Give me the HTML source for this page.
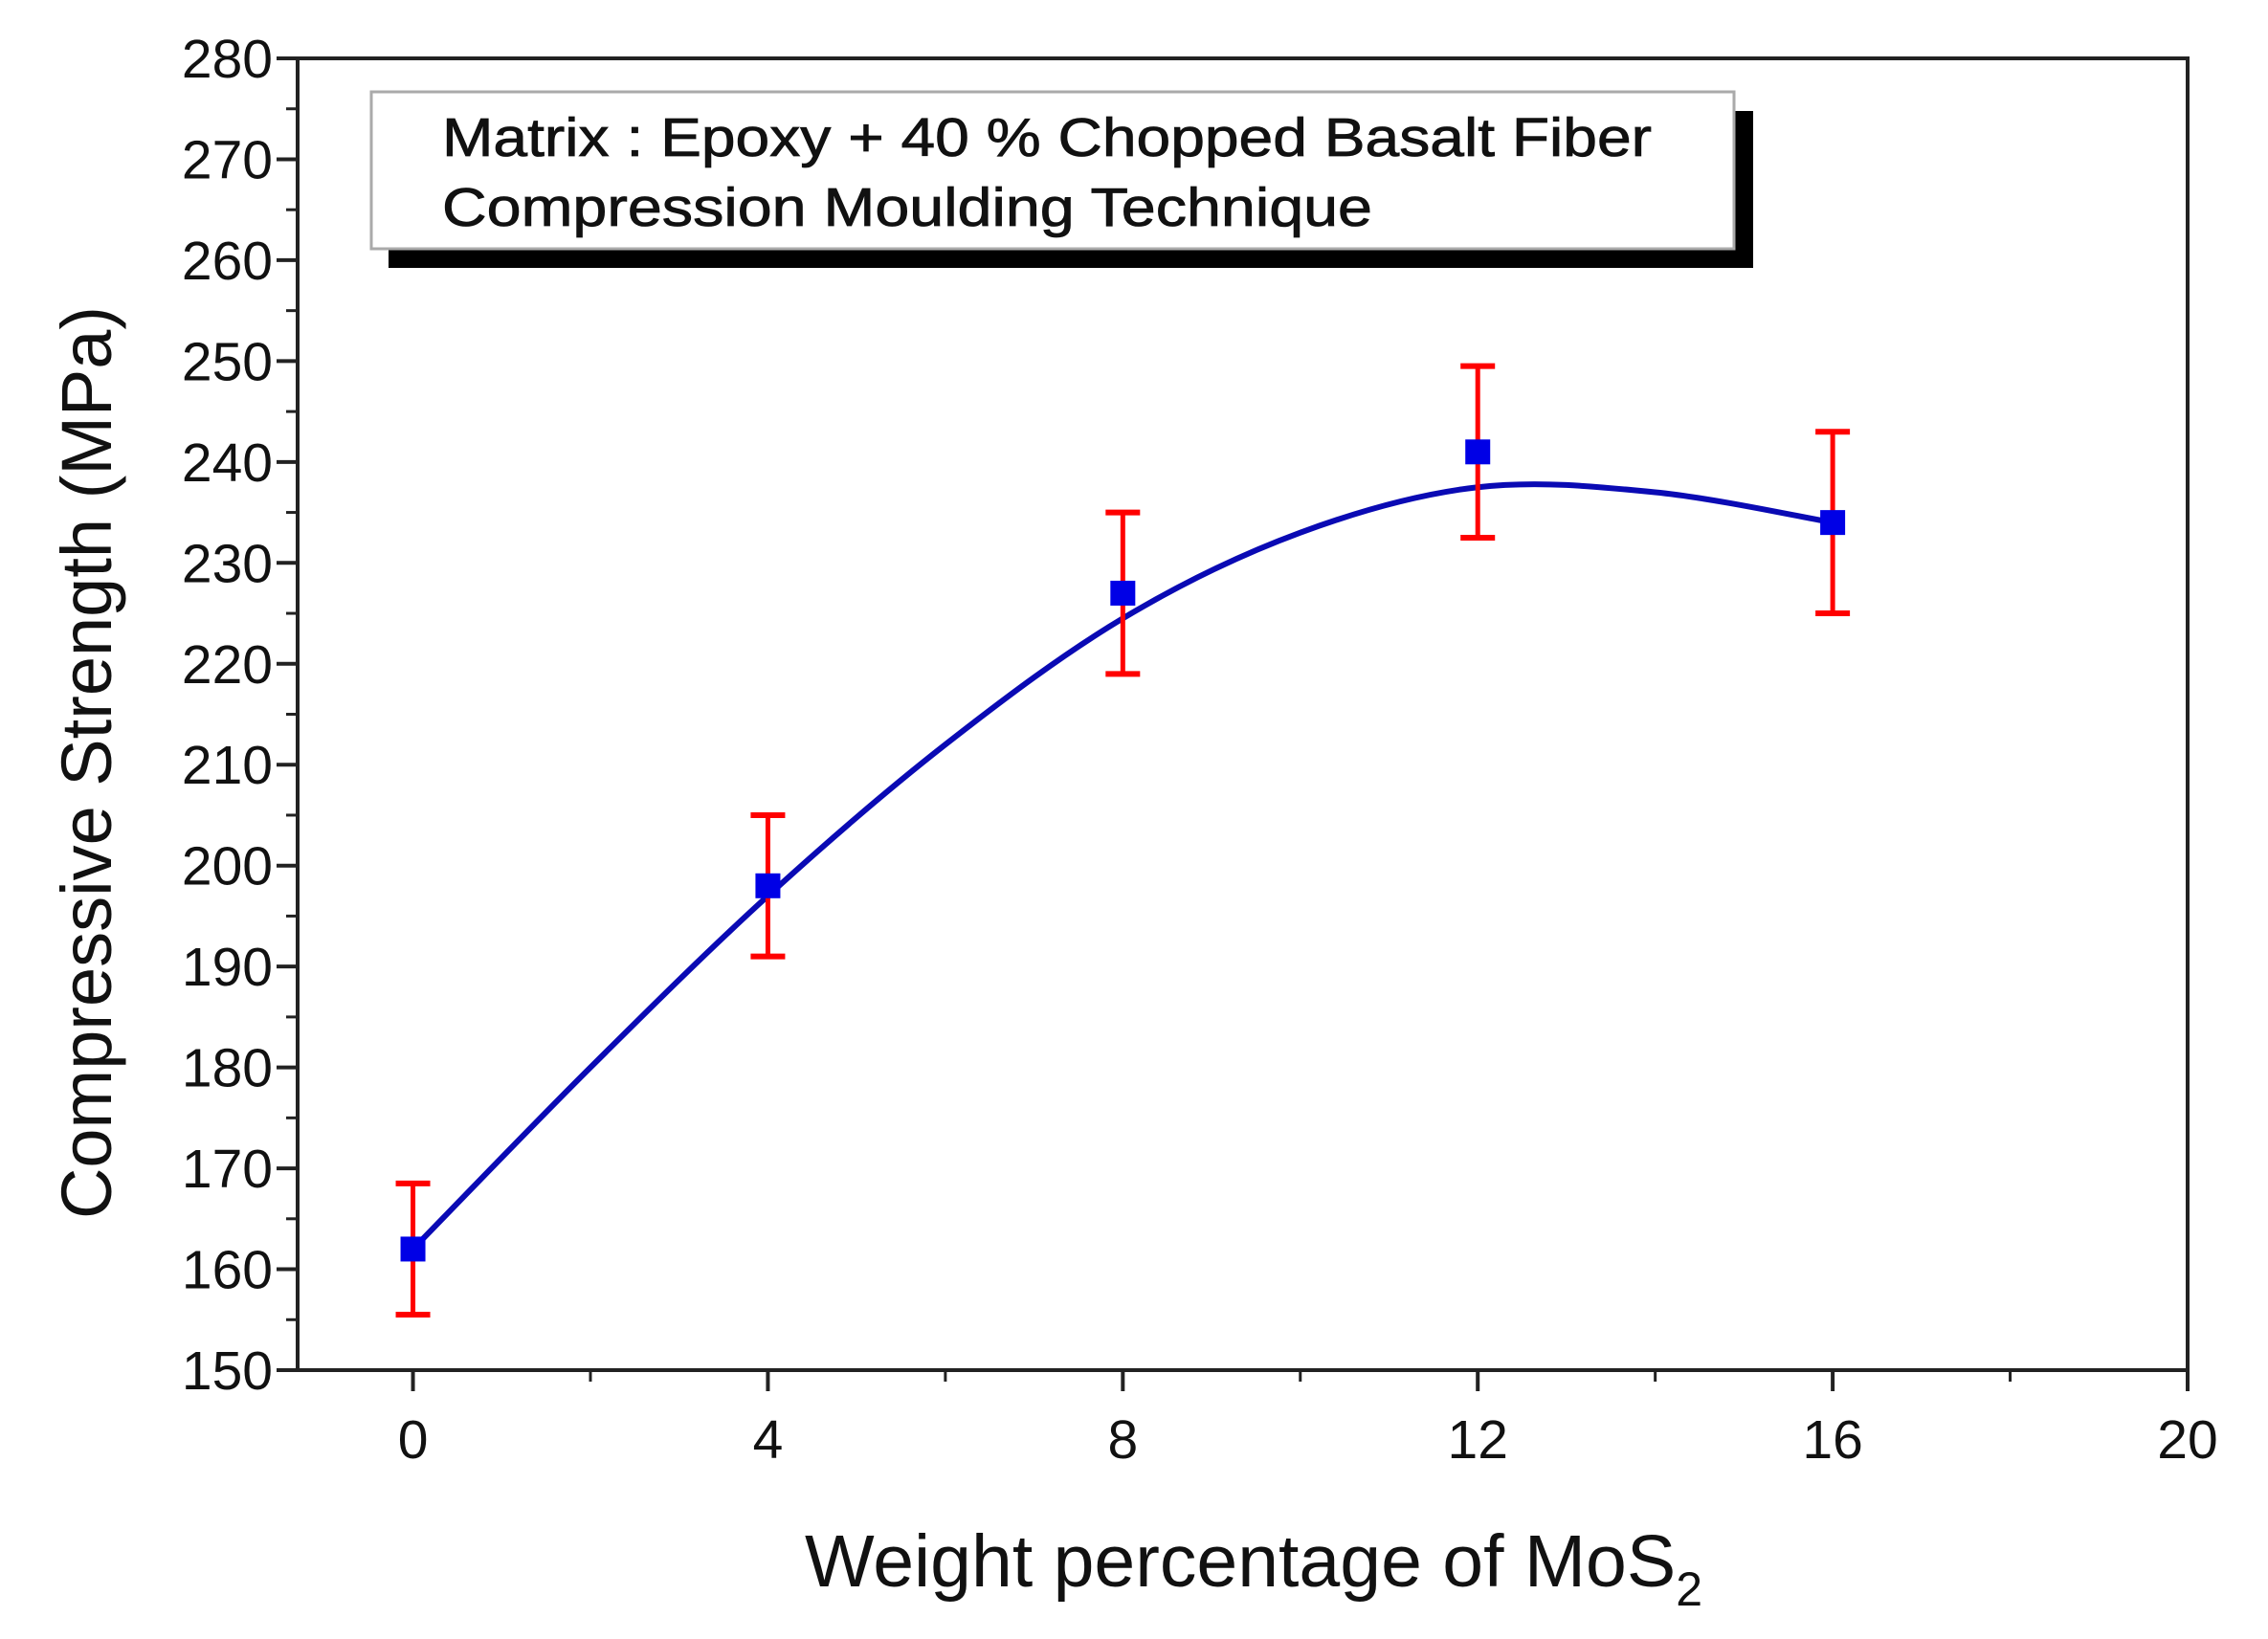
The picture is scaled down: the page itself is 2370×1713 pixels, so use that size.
<!DOCTYPE html>
<html><head><meta charset="utf-8"><style>
html,body{margin:0;padding:0;background:#fff;}
svg{display:block;}
text{font-family:"Liberation Sans",Arial,sans-serif;fill:#111;}
</style></head><body>
<svg id="chart" width="2370" height="1713" viewBox="0 0 2370 1713" xmlns="http://www.w3.org/2000/svg">
<g id="legend">
  <rect x="406" y="116" width="1426" height="164" fill="#000"/>
  <rect x="388" y="96" width="1424" height="164" fill="#fff" stroke="#aaa" stroke-width="3"/>
  <text x="462" y="163" font-size="57" textLength="1264" lengthAdjust="spacingAndGlyphs" stroke="#111" stroke-width="0.8">Matrix : Epoxy + 40 % Chopped Basalt Fiber</text>
  <text x="462" y="236" font-size="57" textLength="972" lengthAdjust="spacingAndGlyphs" stroke="#111" stroke-width="0.8">Compression Moulding Technique</text>
</g>
<g id="axes"></g>
<g id="marks"></g>
<text x="0" y="0" font-size="74" text-anchor="middle" transform="translate(116,797) rotate(-90)">Compressive Strength (MPa)</text>
<text x="1310" y="1658" font-size="77" text-anchor="middle">Weight percentage of MoS<tspan font-size="50" dy="20">2</tspan></text>
</svg>
<script>
const categories = [0, 4, 8, 12, 16];
const strengthValues = [162, 198, 227, 241, 234];
const errorLow = [155.5, 191, 219, 232.5, 225];
const errorHigh = [168.5, 205, 235, 249.5, 243];
const fitX = [0, 2, 4, 6, 8, 10, 12, 14, 16];
const fitY = [162, 180, 197, 212, 224.5, 233, 237.5, 237, 234];
const xTickLabels = ["0", "4", "8", "12", "16", "20"];
const yTickLabels = ["150","160","170","180","190","200","210","220","230","240","250","260","270","280"];

const NS = "http://www.w3.org/2000/svg";
const L = 311, R = 2286, T = 61, B = 1432;
const xMin = -1.3, xMax = 20, yMin = 150, yMax = 280;
function xs(v){ return L + (v - xMin) / (xMax - xMin) * (R - L); }
function ys(v){ return B - (v - yMin) / (yMax - yMin) * (B - T); }
function mk(tag, attrs, parent){
  const e = document.createElementNS(NS, tag);
  for (const k in attrs) e.setAttribute(k, attrs[k]);
  parent.appendChild(e); return e;
}
const axes = document.getElementById('axes');
const marks = document.getElementById('marks');

const frame = mk('rect', {x:L, y:T, width:R-L, height:B-T, fill:'none', stroke:'#222', 'stroke-width':4}, axes);



yTickLabels.forEach(function(lab){
  const v = parseFloat(lab); const y = ys(v);
  const t = mk('line', {x1:L-22, x2:L, y1:y, y2:y, stroke:'#222', 'stroke-width':4}, axes);
  
  
  const tx = mk('text', {x:L-26, y:y+20, 'font-size':57, 'text-anchor':'end'}, axes);
  tx.textContent = lab;
  
  
  if (v + 5 <= yMax) {
    const m = mk('line', {x1:L-12, x2:L, y1:ys(v+5), y2:ys(v+5), stroke:'#222', 'stroke-width':3}, axes);
    
    
  }
});
xTickLabels.forEach(function(lab){
  const v = parseFloat(lab); const x = xs(v);
  const t = mk('line', {x1:x, x2:x, y1:B, y2:B+22, stroke:'#222', 'stroke-width':4}, axes);
  
  
  const tx = mk('text', {x:x, y:B+92, 'font-size':57, 'text-anchor':'middle'}, axes);
  tx.textContent = lab;
  
  
  if (v + 2 <= xMax) {
    const m = mk('line', {x1:xs(v+2), x2:xs(v+2), y1:B, y2:B+12, stroke:'#222', 'stroke-width':3}, axes);
    
    
  }
});

const pts = fitX.map(function(v,i){ return [xs(v), ys(fitY[i])]; });
let d = 'M' + pts[0][0] + ',' + pts[0][1];
for (let i = 0; i < pts.length - 1; i++) {
  const p0 = pts[i-1] || pts[i], p1 = pts[i], p2 = pts[i+1], p3 = pts[i+2] || p2;
  const c1 = [p1[0] + (p2[0]-p0[0])/6, p1[1] + (p2[1]-p0[1])/6];
  const c2 = [p2[0] - (p3[0]-p1[0])/6, p2[1] - (p3[1]-p1[1])/6];
  d += ' C' + c1 + ' ' + c2 + ' ' + p2;
}
const curve = mk('path', {d:d, fill:'none', stroke:'#0a0ab4', 'stroke-width':6}, marks);



categories.forEach(function(c, i){
  const x = xs(c);
  const g = mk('g', {}, marks);
  
  
  mk('line', {x1:x, x2:x, y1:ys(errorLow[i]), y2:ys(errorHigh[i]), stroke:'#f00', 'stroke-width':5}, g);
  mk('line', {x1:x-18, x2:x+18, y1:ys(errorLow[i]), y2:ys(errorLow[i]), stroke:'#f00', 'stroke-width':6}, g);
  mk('line', {x1:x-18, x2:x+18, y1:ys(errorHigh[i]), y2:ys(errorHigh[i]), stroke:'#f00', 'stroke-width':6}, g);
});
categories.forEach(function(c, i){
  const p = mk('rect', {x:xs(c)-13, y:ys(strengthValues[i])-13, width:26, height:26, fill:'#0000e6'}, marks);
  
  
});
</script>
</body></html>
